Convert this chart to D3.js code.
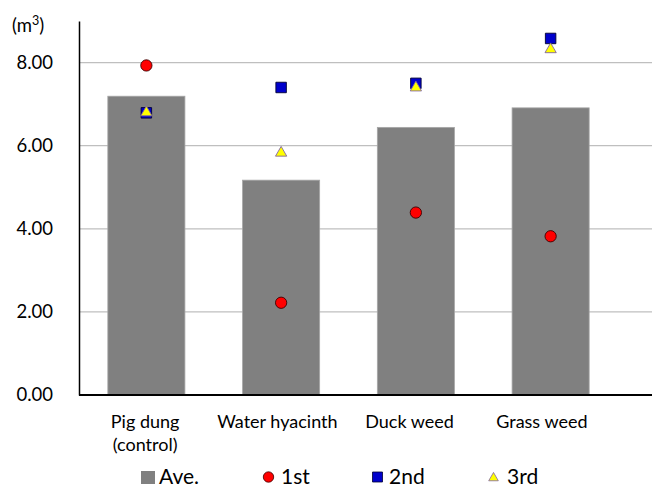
<!DOCTYPE html>
<html>
<head>
<meta charset="utf-8">
<script src="https://cdn.jsdelivr.net/npm/d3@7"></script>
<style>
  html, body { margin: 0; padding: 0; background: #fff; }
  svg { display: block; font-family: Lato, "Open Sans", sans-serif; }
</style>
</head>
<body>
<svg id="chart" width="652" height="488"></svg>
<script>
// Biogas volume by substrate (m³)
const categories = ["Pig dung|(control)", "Water hyacinth", "Duck weed", "Grass weed"];
const average = [7.19, 5.17, 6.44, 6.91];
const run1 = [7.93, 2.22, 4.39, 3.82];
const run2 = [6.79, 7.40, 7.50, 8.58];
const run3 = [6.82, 5.85, 7.42, 8.34];
const yTicks = [0, 2, 4, 6, 8];
const legendLabels = ["Ave.", "1st", "2nd", "3rd"];

const svg = d3.select("#chart");
const W = 652;
const plotLeft = 79, plotRight = 618, plotTop = 21, plotBottom = 395;

const x = d3.scaleBand().domain(d3.range(categories.length)).range([plotLeft, plotRight]).paddingInner(0.428).paddingOuter(0.214);
const xLabel = d3.scaleBand().domain(d3.range(categories.length)).range([plotLeft, 608]);
const y = d3.scaleLinear().domain([0, 9]).range([plotBottom, plotTop]);

// horizontal gridlines
svg.append("g").selectAll("line").data(yTicks.filter(d => d > 0)).join("line")
  .attr("x1", plotLeft).attr("x2", W)
  .attr("y1", d => y(d)).attr("y2", d => y(d))
  .attr("stroke", "#bfbfbf").attr("stroke-width", 1.3);

// average bars
svg.append("g").selectAll("rect").data(average).join("rect")
  .attr("x", (d, i) => x(i))
  .attr("y", d => y(d))
  .attr("width", x.bandwidth())
  .attr("height", d => y(0) - y(d))
  .attr("fill", "#808080")
  .attr("stroke", "#a6a6a6").attr("stroke-width", 0.8);

// y axis
const yAxis = d3.axisLeft(y).tickValues(yTicks).tickFormat(d3.format(".2f")).tickSize(0).tickPadding(26);
const gy = svg.append("g").attr("transform", `translate(${plotLeft},0)`).call(yAxis);
gy.select(".domain").attr("stroke", "#000").attr("stroke-width", 1.5);
gy.selectAll(".tick text").attr("font-size", 18.5).attr("fill", "#000").attr("font-family", "Lato, sans-serif");

// baseline
svg.append("line").attr("x1", plotLeft).attr("x2", W).attr("y1", y(0)).attr("y2", y(0))
  .attr("stroke", "#000").attr("stroke-width", 2);

// unit label
const unit = svg.append("text").attr("x", 12).attr("y", 31.5).attr("font-size", 18.5).attr("fill", "#000");
unit.append("tspan").text("(m");
unit.append("tspan").attr("dy", -7).attr("font-size", 12.5).text("3");
unit.append("tspan").attr("dy", 7).text(")");

// category labels
const cl = svg.append("g").selectAll("text").data(categories).join("text")
  .attr("x", (d, i) => xLabel(i) + xLabel.bandwidth() / 2)
  .attr("y", 428)
  .attr("text-anchor", "middle").attr("font-size", 18).attr("fill", "#000");
cl.each(function (d) {
  const lines = d.split("|");
  d3.select(this).selectAll("tspan").data(lines).join("tspan")
    .attr("x", d3.select(this).attr("x"))
    .attr("dy", (t, j) => j === 0 ? 0 : 23)
    .text(t => t);
});

// point markers
const cx = i => x(i) + x.bandwidth() / 2;
const sym = (type, size) => d3.symbol().type(type).size(size)();

svg.append("g").selectAll("path").data(run1).join("path")
  .attr("transform", (d, i) => `translate(${cx(i)},${y(d)})`)
  .attr("d", sym(d3.symbolCircle, 100))
  .attr("fill", "#ff0000").attr("stroke", "#3a0000").attr("stroke-width", 0.9);

svg.append("g").selectAll("path").data(run2).join("path")
  .attr("transform", (d, i) => `translate(${cx(i)},${y(d)})`)
  .attr("d", sym(d3.symbolSquare, 110))
  .attr("fill", "#0000cc").attr("stroke", "#000033").attr("stroke-width", 0.9);

svg.append("g").selectAll("path").data(run3).join("path")
  .attr("transform", (d, i) => `translate(${cx(i)},${y(d) + 1})`)
  .attr("d", sym(d3.symbolTriangle, 55))
  .attr("fill", "#ffff00").attr("stroke", "#8064a2").attr("stroke-width", 0.9);

// legend
const legend = svg.append("g");
const legendX = [148, 268.5, 377.5, 493.5];
const legendTextX = [159, 281, 389, 507];
const ly = 477;
legend.append("rect").attr("x", legendX[0] - 7).attr("y", ly - 6).attr("width", 14).attr("height", 13).attr("fill", "#808080");
legend.append("path").attr("transform", `translate(${legendX[1]},${ly})`).attr("d", sym(d3.symbolCircle, 85))
  .attr("fill", "#ff0000").attr("stroke", "#3a0000").attr("stroke-width", 0.8);
legend.append("path").attr("transform", `translate(${legendX[2]},${ly})`).attr("d", sym(d3.symbolSquare, 100))
  .attr("fill", "#0000cc").attr("stroke", "#000033").attr("stroke-width", 0.8);
legend.append("path").attr("transform", `translate(${legendX[3]},${ly + 1})`).attr("d", sym(d3.symbolTriangle, 40))
  .attr("fill", "#ffff00").attr("stroke", "#8064a2").attr("stroke-width", 0.8);
legend.selectAll("text").data(legendLabels).join("text")
  .attr("x", (d, i) => legendTextX[i]).attr("y", 483.5)
  .attr("font-size", 21).attr("fill", "#000").text(d => d);
</script>
</body>
</html>
